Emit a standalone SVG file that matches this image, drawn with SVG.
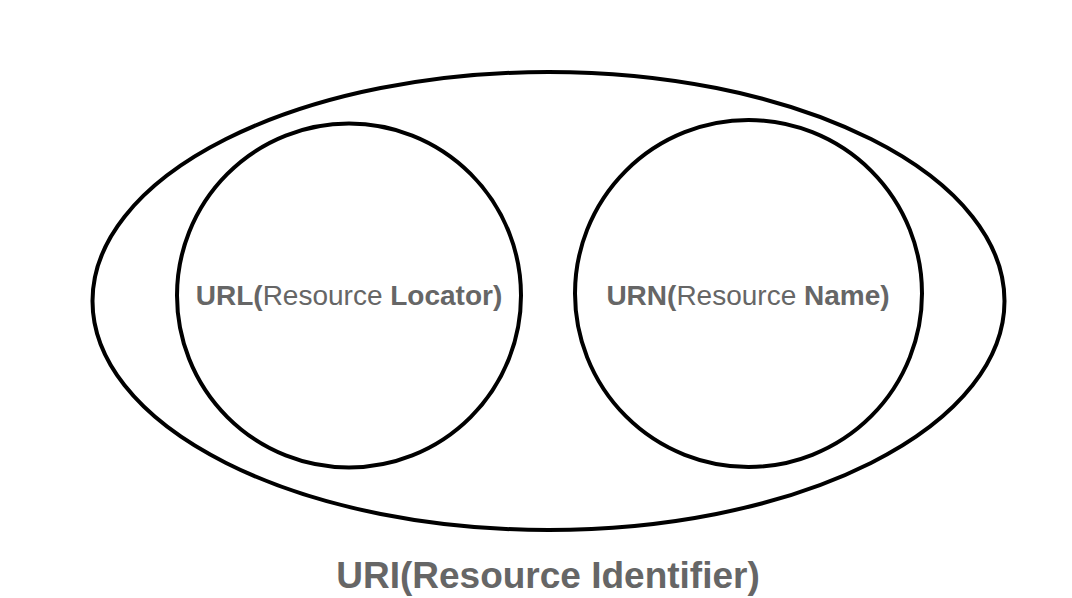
<svg xmlns="http://www.w3.org/2000/svg" width="1072" height="598" viewBox="0 0 1072 598">
<style>
.shape{fill:none;stroke:#000;stroke-width:4}
.lbl{font-family:"Liberation Sans",Arial,sans-serif;fill:#666;text-anchor:middle}
.b{font-weight:bold}
</style>
<rect width="1072" height="598" fill="#fff"/>
<g id="uri">
<ellipse class="shape" cx="548.5" cy="301" rx="456" ry="229"/>
<text class="lbl b" x="548" y="588" font-size="37">URI(Resource Identifier)</text>
</g>
<g id="url">
<circle class="shape" cx="349" cy="295.5" r="172"/>
<text class="lbl" x="349" y="305" font-size="28"><tspan class="b">URL(</tspan>Resource <tspan class="b">Locator)</tspan></text>
</g>
<g id="urn">
<circle class="shape" cx="748.5" cy="293.5" r="173.5"/>
<text class="lbl" x="748" y="305" font-size="28"><tspan class="b">URN(</tspan>Resource <tspan class="b">Name)</tspan></text>
</g>
<g id="connectors"></g>
</svg>
